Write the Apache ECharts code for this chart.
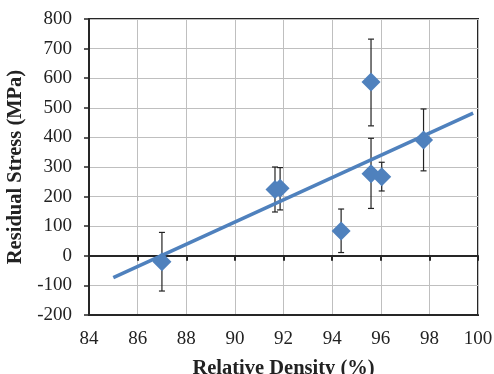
<!DOCTYPE html>
<html>
<head>
<meta charset="utf-8">
<script src="https://cdn.jsdelivr.net/npm/echarts@6/dist/echarts.min.js"></script>
<style>html,body{margin:0;padding:0;background:#fff}#c{width:494px;height:374px}</style>
</head>
<body>
<div id="c"></div>
<script>
// Data
var density = [87.0, 91.65, 91.86, 94.37, 95.6, 95.6, 96.04, 97.76];
var stress  = [-20, 224, 228, 84, 587, 277, 267, 391];
var errLow  = [-119, 148, 155, 11, 439, 160, 219, 287];
var errHigh = [79, 300, 298, 158, 732, 397, 316, 496];
var trendX = [85.0, 99.8];
var trendY = [-74, 482];
var xTicks = [84, 86, 88, 90, 92, 94, 96, 98, 100];
var yTicks = [-200, -100, 0, 100, 200, 300, 400, 500, 600, 700, 800];

var font = 'Liberation Serif';
var blue = '#4f81bd';
var dark = '#262626';

var points = density.map(function (x, i) { return [x, stress[i]]; });
var bars = density.map(function (x, i) { return [x, errLow[i], errHigh[i]]; });
var trend = trendX.map(function (x, i) { return [x, trendY[i]]; });

var chart = echarts.init(document.getElementById('c'), null, {renderer: 'canvas'});
chart.setOption({
  animation: false,
  backgroundColor: '#fff',
  grid: {left: 89, right: 16, top: 19, bottom: 59, show: true, borderColor: dark, borderWidth: 2, outerBoundsMode: 'none'},
  xAxis: [{
    type: 'value', min: xTicks[0], max: xTicks[xTicks.length - 1], interval: 2,
    axisLine: {onZero: false, show: true, lineStyle: {color: dark, width: 2}},
    axisTick: {show: false},
    axisLabel: {fontFamily: font, fontSize: 19, color: '#222', margin: 15},
    splitLine: {show: true, lineStyle: {color: '#bfbfbf', width: 1}},
    name: 'Relative Density (%)', nameLocation: 'middle', nameGap: 43,
    nameTextStyle: {fontFamily: font, fontSize: 20.5, fontWeight: 'bold', color: '#222', verticalAlign: 'top'}
  }, {
    type: 'value', min: xTicks[0], max: xTicks[xTicks.length - 1], interval: 2, position: 'bottom',
    axisLine: {onZero: true, onZeroAxisIndex: 0, show: true, lineStyle: {color: dark, width: 2}},
    axisTick: {show: true, length: 5, lineStyle: {color: dark, width: 2}},
    axisLabel: {show: false},
    splitLine: {show: false}
  }],
  yAxis: {
    type: 'value', min: yTicks[0], max: yTicks[yTicks.length - 1], interval: 100,
    axisLine: {show: true, lineStyle: {color: dark, width: 2}},
    axisTick: {show: true, length: 5, lineStyle: {color: dark, width: 1.5}},
    axisLabel: {fontFamily: font, fontSize: 19, color: '#222', margin: 17},
    splitLine: {show: true, lineStyle: {color: '#bfbfbf', width: 1}},
    name: 'Residual Stress (MPa)', nameLocation: 'middle', nameGap: 53,
    nameTextStyle: {fontFamily: font, fontSize: 20.5, fontWeight: 'bold', color: '#222'}
  },
  series: [{
    type: 'custom',
    data: bars,
    z: 3,
    renderItem: function (params, api) {
      var x = api.value(0);
      var lo = api.coord([x, api.value(1)]);
      var hi = api.coord([x, api.value(2)]);
      var w = 3;
      var style = {stroke: '#222', lineWidth: 1.2};
      return {type: 'group', children: [
        {type: 'line', shape: {x1: lo[0], y1: lo[1], x2: hi[0], y2: hi[1]}, style: style},
        {type: 'line', shape: {x1: lo[0] - w, y1: lo[1], x2: lo[0] + w, y2: lo[1]}, style: style},
        {type: 'line', shape: {x1: hi[0] - w, y1: hi[1], x2: hi[0] + w, y2: hi[1]}, style: style}
      ]};
    }
  }, {
    type: 'scatter',
    data: points,
    symbol: 'diamond',
    symbolSize: [19, 19],
    itemStyle: {color: blue, opacity: 1},
    z: 4
  }, {
    type: 'line',
    data: trend,
    symbol: 'none',
    lineStyle: {color: blue, width: 3.5},
    z: 5
  }]
});
</script>
</body>
</html>
